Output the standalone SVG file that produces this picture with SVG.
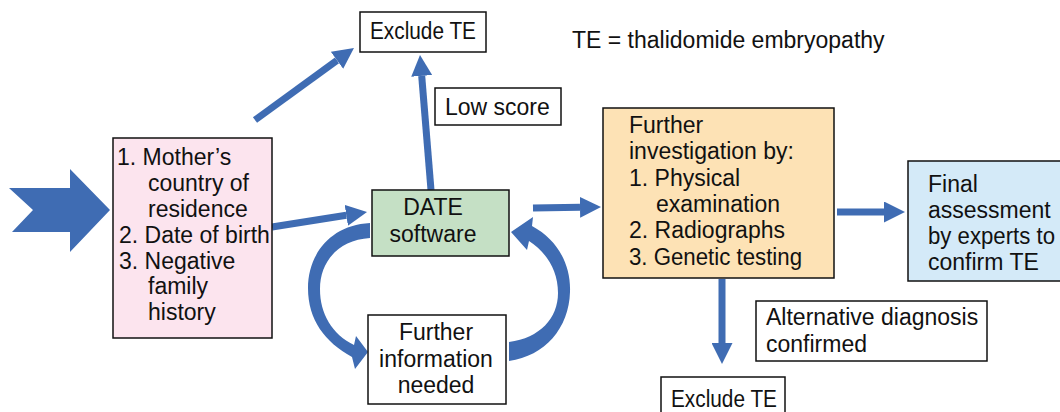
<svg xmlns="http://www.w3.org/2000/svg" width="1060" height="412" viewBox="0 0 1060 412">
  <defs>
    <marker id="head" viewBox="0 0 10 10" refX="0" refY="5" markerWidth="3" markerHeight="3" orient="auto" markerUnits="strokeWidth">
      <path d="M0,0 L10,5 L0,10 Z" fill="#3f6cb3"/>
    </marker>
    <style>
      text { font-family: "Liberation Sans", Arial, sans-serif; font-size: 23px; fill: #111; }
      .box { stroke: #111; stroke-width: 1.5; }
      .arrow { stroke: #3f6cb3; stroke-width: 7; fill: none; marker-end: url(#head); }
      .blk { fill: #3f6cb3; }
    </style>
  </defs>

  <rect width="1060" height="412" fill="#ffffff"/>

  <!-- connectors -->
  <g id="connectors">
    <!-- entry chevron -->
    <polygon class="blk" points="9,188 70,188 70,169 110,210 70,252 70,232 12,232 33,210"/>
    <line class="arrow" x1="272" y1="227" x2="346.3" y2="215.3"/>
    <line class="arrow" x1="255" y1="120" x2="337" y2="60.3"/>
    <line class="arrow" x1="431" y1="190" x2="421.7" y2="75.9"/>
    <line class="arrow" x1="533" y1="208" x2="580" y2="207.3"/>
    <line class="arrow" x1="837" y1="212" x2="884" y2="212"/>
    <line class="arrow" x1="722" y1="279" x2="722" y2="343"/>
    <!-- loop: DATE software to further information -->
    <path class="blk" d="M370,223 C330,225 308,255 308,288 C308,320 325,342 352,357 L355,369 L368,352 L356,336 L354,345 C332,334 320,314 320,289 C320,262 338,240 370,238 Z"/>
    <!-- loop: further information back to DATE software -->
    <path class="blk" d="M509,342 C540,338 558,318 558,293 C558,270 546,252 529,241 L527,250 L511,232 L533,217 L532,226 C558,240 571,265 570,292 C569,328 545,356 509,361 Z"/>
  </g>

  <g id="legend">
    <text x="572" y="48">TE = thalidomide embryopathy</text>
  </g>

  <g id="criteria">
    <rect class="box" x="113" y="138" width="159" height="200" fill="#fce4ee"/>
    <text x="117" y="165">1. Mother’s</text>
    <text x="148" y="191">country of</text>
    <text x="148" y="217">residence</text>
    <text x="119" y="243">2. Date of birth</text>
    <text x="119" y="269">3. Negative</text>
    <text x="148" y="294">family</text>
    <text x="148" y="320">history</text>
  </g>

  <g id="exclude-top">
    <rect class="box" x="360" y="12" width="126" height="40" fill="#ffffff"/>
    <text x="370" y="39" textLength="106" lengthAdjust="spacingAndGlyphs">Exclude TE</text>
  </g>

  <g id="low-score">
    <rect class="box" x="435" y="88" width="126" height="37" fill="#ffffff"/>
    <text x="445" y="115">Low score</text>
  </g>

  <g id="date-software">
    <rect class="box" x="372" y="190" width="137" height="66" fill="#c5e0c5"/>
    <text x="433" y="215" text-anchor="middle">DATE</text>
    <text x="433" y="242" text-anchor="middle">software</text>
  </g>

  <g id="further-info">
    <rect class="box" x="368" y="315" width="138" height="89" fill="#ffffff"/>
    <text x="436" y="340" text-anchor="middle">Further</text>
    <text x="436" y="367" text-anchor="middle">information</text>
    <text x="436" y="393" text-anchor="middle">needed</text>
  </g>

  <g id="investigation">
    <rect class="box" x="603" y="108" width="231" height="170" fill="#fde2b5"/>
    <text x="629" y="133">Further</text>
    <text x="629" y="159">investigation by:</text>
    <text x="629" y="186">1. Physical</text>
    <text x="656" y="212">examination</text>
    <text x="629" y="238">2. Radiographs</text>
    <text x="629" y="265" textLength="173" lengthAdjust="spacingAndGlyphs">3. Genetic testing</text>
  </g>

  <g id="final-assessment">
    <rect class="box" x="908" y="161" width="160" height="120" fill="#d4eaf8"/>
    <text x="928" y="192">Final</text>
    <text x="928" y="218">assessment</text>
    <text x="928" y="244" textLength="127" lengthAdjust="spacingAndGlyphs">by experts to</text>
    <text x="928" y="270">confirm TE</text>
  </g>

  <g id="alternative">
    <rect class="box" x="756" y="301" width="231" height="60" fill="#ffffff"/>
    <text x="766" y="325">Alternative diagnosis</text>
    <text x="766" y="352">confirmed</text>
  </g>

  <g id="exclude-bottom">
    <rect class="box" x="661" y="377" width="124" height="40" fill="#ffffff"/>
    <text x="671" y="407" textLength="106" lengthAdjust="spacingAndGlyphs">Exclude TE</text>
  </g>
</svg>
